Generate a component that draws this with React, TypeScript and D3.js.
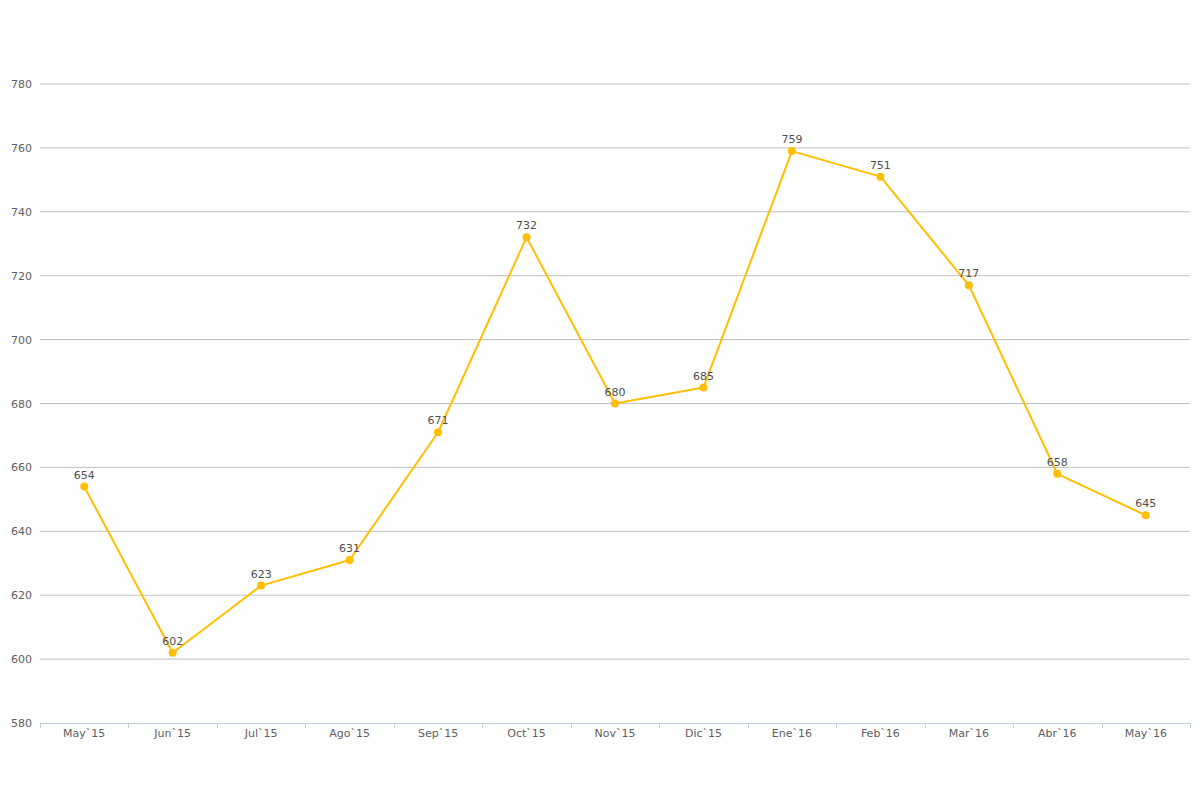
import React from "react";
import * as d3 from "d3";

const categories = ["May`15","Jun`15","Jul`15","Ago`15","Sep`15","Oct`15","Nov`15","Dic`15","Ene`16","Feb`16","Mar`16","Abr`16","May`16"];
const values = [654, 602, 623, 631, 671, 732, 680, 685, 759, 751, 717, 658, 645];
const yTicks = [580, 600, 620, 640, 660, 680, 700, 720, 740, 760, 780];

const W = 1200, H = 800;
const left = 40, right = 1190, top = 84, bottom = 723;
const font = "'DejaVu Sans', Verdana, sans-serif";

export default function App() {
  const x = d3.scaleBand<string>().domain(categories).range([left, right]);
  const y = d3.scaleLinear().domain([580, 780]).range([bottom, top]);
  const cx = (c: string) => (x(c) as number) + x.bandwidth() / 2;
  const line = d3.line<number>().x((_, i) => cx(categories[i])).y(d => y(d));
  const boundaries = [...categories.map(c => x(c) as number), right];
  return (
    <svg width={W} height={H} style={{ position: "absolute", left: 0, top: 0, background: "#fff" }}>
      {yTicks.map(t => (
        <g key={t}>
          {t !== 580 && <line x1={left} x2={right} y1={y(t)} y2={y(t)} stroke="#C0C0C0" strokeWidth={1} />}
          <text x={32} y={y(t) + 4} textAnchor="end" fontFamily={font} fontSize={11} fill="#606060">{t}</text>
        </g>
      ))}
      <line x1={left} x2={right} y1={bottom + 0.5} y2={bottom + 0.5} stroke="#C0D0E0" strokeWidth={1} />
      {boundaries.map((b, i) => (
        <line key={i} x1={Math.round(b) + 0.5} x2={Math.round(b) + 0.5} y1={bottom} y2={bottom + 5} stroke="#C0D0E0" strokeWidth={1} />
      ))}
      {categories.map(c => (
        <text key={c} x={cx(c)} y={bottom + 14} textAnchor="middle" fontFamily={font} fontSize={11} fill="#606060">{c}</text>
      ))}
      <path d={line(values) as string} fill="none" stroke="#FFBF00" strokeWidth={2} strokeLinejoin="round" />
      {values.map((v, i) => (
        <g key={i}>
          <circle cx={cx(categories[i])} cy={y(v)} r={4} fill="#FFBF00" />
          <text x={cx(categories[i])} y={y(v) - 8} textAnchor="middle" fontFamily={font} fontSize={11} fill="#505050">{v}</text>
        </g>
      ))}
    </svg>
  );
}
